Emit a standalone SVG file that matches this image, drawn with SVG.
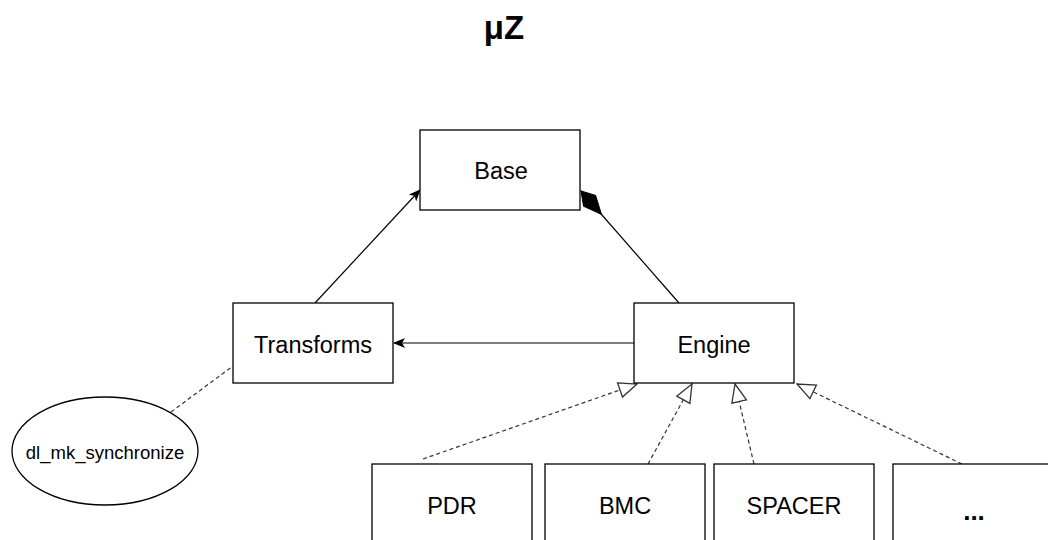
<svg xmlns="http://www.w3.org/2000/svg" width="1048" height="540" viewBox="0 0 1048 540">
  <style>
    .box { fill: #fff; stroke: #000; stroke-width: 1.3; }
    .lbl { font-family: "Liberation Sans", Arial, sans-serif; font-size: 23.5px; fill: #000; text-anchor: middle; }
    .small { font-size: 18.5px; }
    .dots { font-size: 26px; font-weight: bold; }
    .title { font-family: "Liberation Sans", Arial, sans-serif; font-size: 33px; font-weight: bold; fill: #000; text-anchor: middle; }
    .edge { fill: none; stroke: #000; stroke-width: 1.2; }
    .dash { fill: none; stroke: #333; stroke-width: 1.2; stroke-dasharray: 4 3; }
  </style>
  <defs>
    <marker id="classic" viewBox="0 0 12 10" refX="11" refY="5" markerWidth="12" markerHeight="10" markerUnits="userSpaceOnUse" orient="auto">
      <path d="M0,0 L12,5 L0,10 L3,5 Z" fill="#000"/>
    </marker>
    <marker id="realize" viewBox="0 0 20 18" refX="19" refY="9" markerWidth="20" markerHeight="18" markerUnits="userSpaceOnUse" orient="auto">
      <path d="M1,1.5 L19,9 L1,16.5 Z" fill="#fff" stroke="#333" stroke-width="1.3"/>
    </marker>
    <marker id="diamond" viewBox="0 0 34 20" refX="1" refY="10" markerWidth="34" markerHeight="20" markerUnits="userSpaceOnUse" orient="auto">
      <path d="M1,10 L14,2 L32,10 L14,18 Z" fill="#000" stroke="#000"/>
    </marker>
  </defs>

  <text class="title" x="504" y="39">μZ</text>

  <g id="connectors">
    <line class="edge" x1="315" y1="303" x2="420" y2="190" marker-end="url(#classic)"/>
    <line class="edge" x1="581" y1="191" x2="679" y2="303" marker-start="url(#diamond)"/>
    <line class="edge" x1="634" y1="343" x2="394" y2="343" marker-end="url(#classic)"/>
    <line class="dash" x1="171" y1="412" x2="233" y2="366"/>
    <line class="dash" x1="423" y1="459" x2="637" y2="384" marker-end="url(#realize)"/>
    <line class="dash" x1="648" y1="464" x2="692" y2="384" marker-end="url(#realize)"/>
    <line class="dash" x1="754" y1="464" x2="735" y2="384" marker-end="url(#realize)"/>
    <line class="dash" x1="962" y1="464" x2="797" y2="384" marker-end="url(#realize)"/>
  </g>

  <g id="base">
    <rect class="box" x="420" y="130" width="160" height="80"/>
    <text class="lbl" x="501" y="179">Base</text>
  </g>
  <g id="transforms">
    <rect class="box" x="233" y="303" width="160" height="80"/>
    <text class="lbl" x="313" y="353">Transforms</text>
  </g>
  <g id="engine">
    <rect class="box" x="634" y="303" width="160" height="80"/>
    <text class="lbl" x="714" y="353">Engine</text>
  </g>
  <g id="dl-mk-synchronize">
    <ellipse class="box" cx="105" cy="451" rx="93" ry="54"/>
    <text class="lbl small" x="105" y="459">dl_mk_synchronize</text>
  </g>
  <g id="pdr">
    <rect class="box" x="372" y="464" width="160" height="80"/>
    <text class="lbl" x="452" y="514">PDR</text>
  </g>
  <g id="bmc">
    <rect class="box" x="545" y="464" width="160" height="80"/>
    <text class="lbl" x="625" y="514">BMC</text>
  </g>
  <g id="spacer">
    <rect class="box" x="714" y="464" width="160" height="80"/>
    <text class="lbl" x="794" y="514">SPACER</text>
  </g>
  <g id="more">
    <rect class="box" x="893" y="464" width="160" height="80"/>
    <text class="lbl dots" x="974" y="520">...</text>
  </g>
</svg>
